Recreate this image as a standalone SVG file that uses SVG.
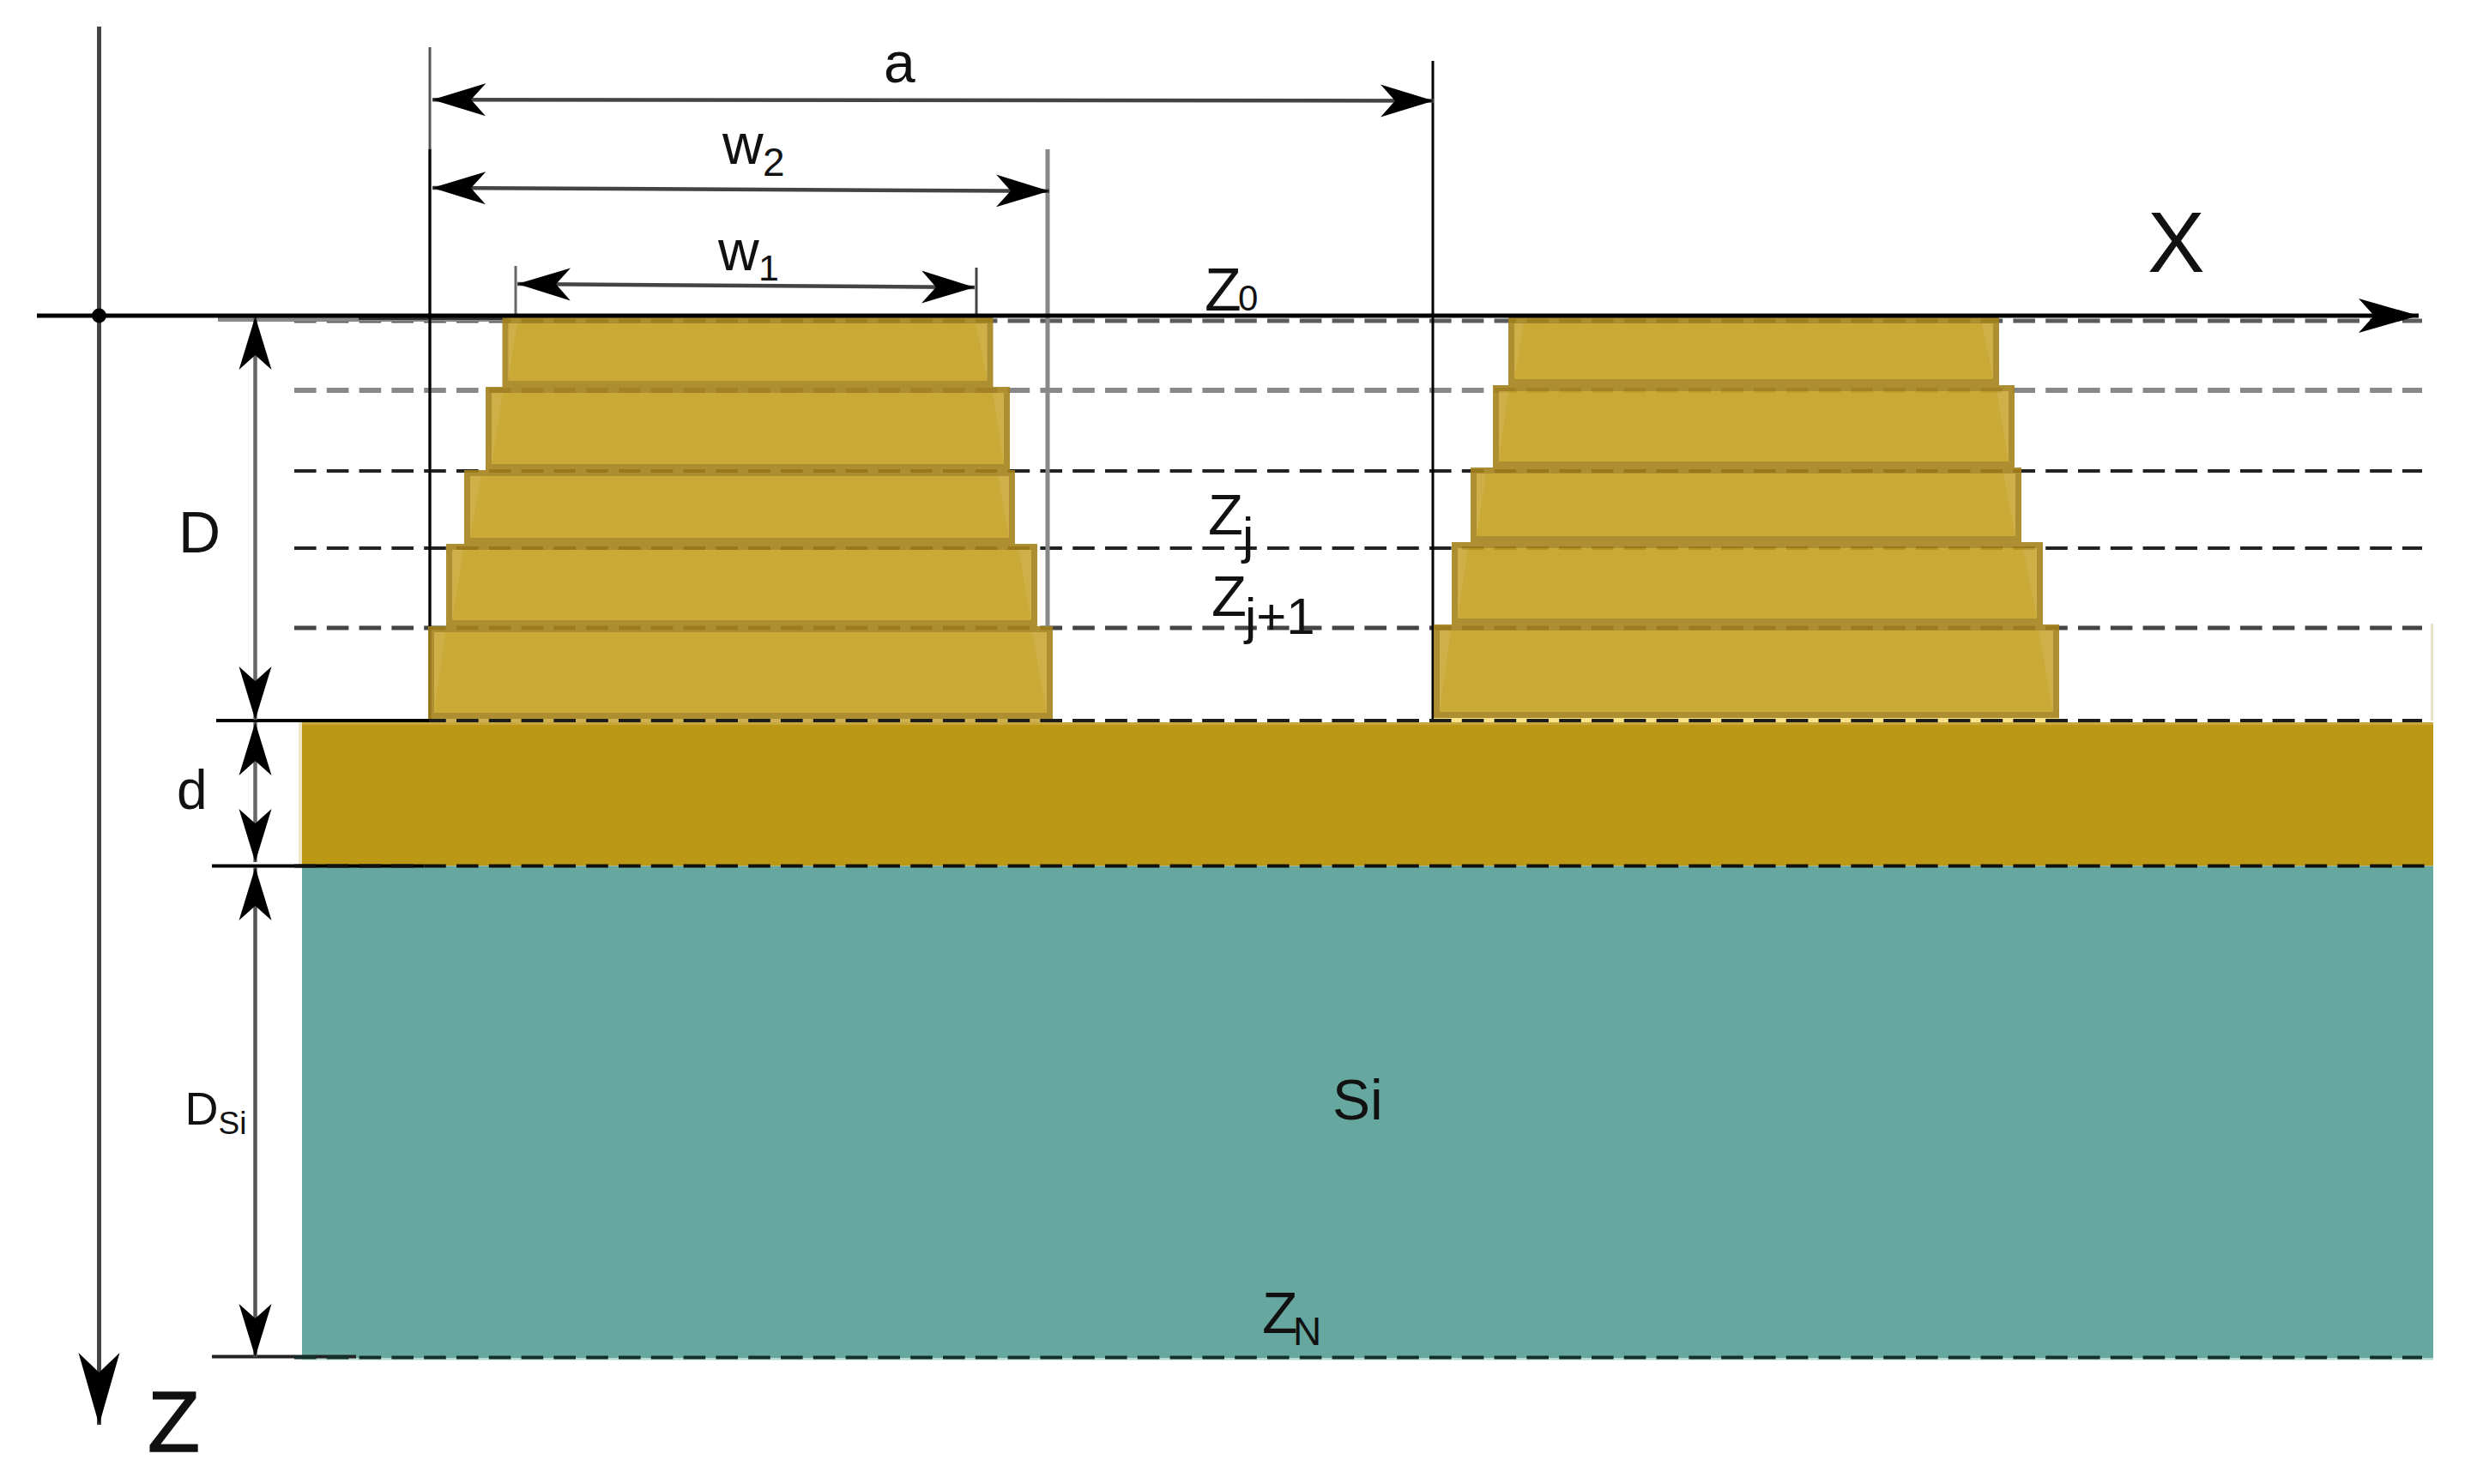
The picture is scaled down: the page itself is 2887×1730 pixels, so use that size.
<svg xmlns="http://www.w3.org/2000/svg" width="2887" height="1730" viewBox="0 0 2887 1730">
<style>
text{font-family:"Liberation Sans",Arial,sans-serif;fill:#111}
.dash{fill:none;stroke-dasharray:25.6 12.2}
.ln{fill:none}
.dim{fill:none;stroke:#444;stroke-width:4.5}
.blk{opacity:.9}
.blk rect{fill:#C5A022;stroke:#A5821A;stroke-width:7}
.blk polygon{fill:#fff;fill-opacity:.09;stroke:none}
</style>
<defs>
<marker id="h" markerUnits="userSpaceOnUse" markerWidth="64" markerHeight="40" refX="62" refY="20" orient="auto-start-reverse" viewBox="0 0 64 40"><path d="M62 20L0 1L17 20L0 39Z" fill="#000"/></marker>
<marker id="hx" markerUnits="userSpaceOnUse" markerWidth="72" markerHeight="42" refX="70" refY="21" orient="auto" viewBox="0 0 72 42"><path d="M70 21L0 1L18 21L0 41Z" fill="#000"/></marker>
<marker id="hz" markerUnits="userSpaceOnUse" markerWidth="86" markerHeight="50" refX="84" refY="25" orient="auto" viewBox="0 0 86 50"><path d="M84 25L0 1L23 25L0 49Z" fill="#000"/></marker>
</defs>
<rect width="2887" height="1730" fill="#fff"/>

<g id="guides">
<path class="dash" d="M343 374H2823" stroke="#5c5c5c" stroke-width="5"/>
<path class="dash" d="M343 455H2823" stroke="#888" stroke-width="6"/>
<path class="dash" d="M343 549H2823" stroke="#222" stroke-width="4"/>
<path class="dash" d="M343 639H2823" stroke="#222" stroke-width="4"/>
<path class="dash" d="M343 732H2823" stroke="#444" stroke-width="5"/>
<path class="dash" d="M343 840H2823" stroke="#1c1c1c" stroke-width="4"/>
<path class="ln" d="M254 372H590" stroke="#888" stroke-width="6"/>
<path class="ln" d="M418 371H590" stroke="#333" stroke-width="4"/>
<path class="ln" d="M501 55V840" stroke="#555" stroke-width="3"/>
<path class="ln" d="M501 174V840" stroke="#000" stroke-width="3"/>
<path class="ln" d="M1670 71V840" stroke="#000" stroke-width="3"/>
<path class="ln" d="M1221 174V732" stroke="#888" stroke-width="5"/>
<path class="ln" d="M601 310V370" stroke="#666" stroke-width="3"/>
<path class="ln" d="M1138 312V370" stroke="#444" stroke-width="3"/>
</g>

<g id="layer-edges">
<rect x="2833" y="727" width="3" height="113" fill="#E8E0C8"/>
<rect x="348" y="842" width="4" height="167" fill="#EFE6C8"/>
</g>

<g id="stack-left">
<g id="sl1" class="blk"><rect x="589" y="373.500" width="565" height="74"/><polygon points="592,377 603,377 592,444"/><polygon points="1137,377 1151,377 1151,444"/></g>
<g id="sl2" class="blk"><rect x="569.500" y="454.500" width="604" height="90"/><polygon points="573,458 586,458 573,541"/><polygon points="1157,458 1170,458 1170,541"/></g>
<g id="sl3" class="blk"><rect x="544.500" y="551.500" width="635" height="79"/><polygon points="548,555 561,555 548,627"/><polygon points="1163,555 1176,555 1176,627"/></g>
<g id="sl4" class="blk"><rect x="523.500" y="637.500" width="682" height="89"/><polygon points="527,641 540,641 527,723"/><polygon points="1187,641 1202,641 1202,723"/></g>
<g id="sl5" class="blk"><rect x="502.500" y="733.500" width="721" height="101"/><polygon points="506,737 519,737 506,831"/><polygon points="1203,737 1220,737 1220,831"/></g>
</g>

<g id="stack-right">
<g id="sr1" class="blk"><rect x="1761.500" y="373.500" width="565" height="72"/><polygon points="1765,377 1776,377 1765,442"/><polygon points="2310,377 2323,377 2323,442"/></g>
<g id="sr2" class="blk"><rect x="1743.500" y="452.500" width="601" height="89"/><polygon points="1747,456 1758,456 1747,538"/><polygon points="2327,456 2341,456 2341,538"/></g>
<g id="sr3" class="blk"><rect x="1717.500" y="548.500" width="635" height="80"/><polygon points="1721,552 1732,552 1721,625"/><polygon points="2335,552 2349,552 2349,625"/></g>
<g id="sr4" class="blk"><rect x="1695.500" y="635.500" width="682" height="89"/><polygon points="1699,639 1711,639 1699,721"/><polygon points="2358,639 2374,639 2374,721"/></g>
<g id="sr5" class="blk"><rect x="1674.500" y="731.500" width="722" height="102"/><polygon points="1678,735 1691,735 1678,830"/><polygon points="2376,735 2393,735 2393,830"/></g>
</g>

<g id="gold-layer">
<rect x="499" y="838" width="728" height="4" fill="#CDB050"/>
<rect x="1671" y="837" width="729" height="5" fill="#FBE38A"/>
<path class="dash" d="M343 840H2823" stroke="#1c1c1c" stroke-width="4"/>
<rect x="352" y="842" width="2484" height="167.500" fill="#BD9815"/>
<rect x="352" y="842" width="2484" height="3" fill="#C8A73F"/>
</g>

<g id="si-layer">
<rect x="352" y="1009.500" width="2484" height="573.500" fill="#66A8A0"/>
<rect x="352" y="1583" width="2484" height="2.500" fill="#B8DAD4"/>
</g>

<g id="connectors">
<path class="ln" d="M252 840H500" stroke="#000" stroke-width="4"/>
<path class="ln" d="M247 1009.500H494" stroke="#000" stroke-width="4"/>
<path class="dash" d="M343 1009.500H2836" stroke="#111" stroke-width="4"/>
<path class="ln" d="M247 1581.500H415" stroke="#222" stroke-width="4"/>
<path class="dash" d="M343 1582.500H2823" stroke="#12302b" stroke-width="4"/>
<line class="dim" x1="504" y1="116.300" x2="1671" y2="117.500" marker-start="url(#h)" marker-end="url(#h)"/>
<line class="dim" x1="504" y1="219" x2="1223" y2="222.700" marker-start="url(#h)" marker-end="url(#h)"/>
<line class="dim" x1="603" y1="331" x2="1136" y2="335" marker-start="url(#h)" marker-end="url(#h)"/>
<line class="dim" style="stroke:#666" x1="297.500" y1="369" x2="297.500" y2="839" marker-start="url(#h)" marker-end="url(#h)"/>
<line class="dim" style="stroke:#666" x1="297.500" y1="842" x2="297.500" y2="1005" marker-start="url(#h)" marker-end="url(#h)"/>
<line class="dim" style="stroke:#555" x1="297.500" y1="1011" x2="297.500" y2="1582" marker-start="url(#h)" marker-end="url(#h)"/>
<line x1="43" y1="368" x2="2819" y2="368" stroke="#000" stroke-width="5" marker-end="url(#hx)"/>
<line x1="115.500" y1="31" x2="115.500" y2="1661" stroke="#444" stroke-width="5" marker-end="url(#hz)"/>
<circle cx="115.500" cy="368" r="8.500" fill="#000"/>
</g>

<g id="labels">
<text x="1030" y="96" font-size="66">a</text>
<text x="842" y="190.500" font-size="66">w<tspan x="889" y="205" font-size="46">2</tspan></text>
<text x="837" y="314.500" font-size="66">w<tspan x="884" y="327" font-size="43">1</tspan></text>
<text x="1404" y="361.500" font-size="70">Z<tspan x="1443" y="361.500" font-size="42">0</tspan></text>
<text x="2503" y="317" font-size="100">X</text>
<text x="172" y="1692" font-size="100" stroke="#111" stroke-width="1.500">Z</text>
<text x="208" y="644" font-size="68">D</text>
<text x="206" y="942.500" font-size="64">d</text>
<text x="215.500" y="1311" font-size="54">D<tspan x="254.500" y="1322" font-size="37">Si</tspan></text>
<text x="1553" y="1305" font-size="66">Si</text>
<text x="1408" y="623" font-size="67">Z<tspan x="1448" y="645" font-size="60">j</tspan></text>
<text x="1412" y="718" font-size="67">Z<tspan x="1451" y="739" font-size="60">j+1</tspan></text>
<text x="1471" y="1554" font-size="68">Z<tspan x="1507" y="1568" font-size="46">N</tspan></text>
</g>
</svg>
